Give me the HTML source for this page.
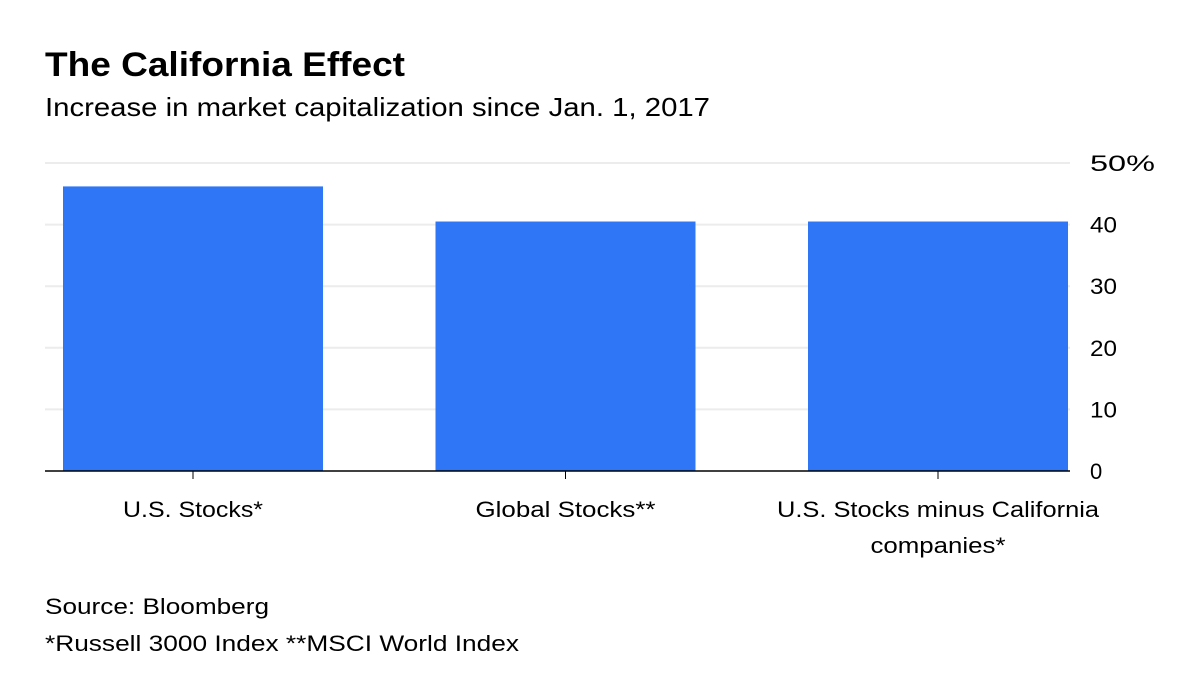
<!DOCTYPE html>
<html><head><meta charset="utf-8"><style>
body{margin:0;width:1198px;height:694px;background:#fff;font-family:"Liberation Sans",sans-serif;overflow:hidden}
</style></head><body>
<svg width="1198" height="694">
<text x="45" y="76" font-size="34" font-weight="bold" fill="#000" textLength="360" lengthAdjust="spacingAndGlyphs">The California Effect</text>
<text x="45" y="116" font-size="26" fill="#000" textLength="665" lengthAdjust="spacingAndGlyphs">Increase in market capitalization since Jan. 1, 2017</text>
<g id="grid"></g>
<g id="bars"></g>
<g id="yt"></g>
<g id="xt"></g>
<text x="45" y="614" font-size="22" fill="#000" textLength="224" lengthAdjust="spacingAndGlyphs">Source: Bloomberg</text>
<text x="45" y="651" font-size="22" fill="#000" textLength="474" lengthAdjust="spacingAndGlyphs">*Russell 3000 Index **MSCI World Index</text>
</svg>
<script>
const categories=[["U.S. Stocks*"],["Global Stocks**"],["U.S. Stocks minus California","companies*"]];
const values=[46.2,40.5,40.5];
const ticks=[0,10,20,30,40,50];
const tickLabels=["0","10","20","30","40","50%"];
const NS="http://www.w3.org/2000/svg";
const y0=471,y50=163,xL=45,xR=1070;
const y=v=>y0-(y0-y50)*v/50;
const bw=260, step=372.5, first=193;
const cx=i=>first+i*step;
const textWidths={"U.S. Stocks*":140,"Global Stocks**":180,"U.S. Stocks minus California":322,"companies*":135};
function mk(t,a,p){const e=document.createElementNS(NS,t);for(const k in a)e.setAttribute(k,a[k]);p.appendChild(e);return e;}
const g=document.getElementById('grid'),b=document.getElementById('bars'),yt=document.getElementById('yt'),xt=document.getElementById('xt');
ticks.forEach((t,i)=>{
 if(t>0){const l=mk('line',{x1:xL,x2:xR,y1:y(t),y2:y(t),stroke:'#ececec','stroke-width':2},g);
 
 }
 const tx=mk('text',{x:1090,y:y(t)+8,'font-size':22,fill:'#000'},yt);tx.textContent=tickLabels[i];
 if(tickLabels[i].length>1)tx.setAttribute('textLength',tickLabels[i].length>2?65:27);
 tx.setAttribute('lengthAdjust','spacingAndGlyphs');
 
 
});
values.forEach((v,i)=>{
 const r=mk('rect',{x:cx(i)-bw/2,y:y(v),width:bw,height:y0-y(v),fill:'#2f76f6'},b);
 
 
 const tk=mk('line',{x1:cx(i),x2:cx(i),y1:y0,y2:y0+8,stroke:'#000','stroke-width':1},xt);
 
 
 categories[i].forEach((s,j)=>{
  const t=mk('text',{x:cx(i),y:517+j*36,'font-size':22,fill:'#000','text-anchor':'middle'},xt);t.textContent=s;
  t.setAttribute('textLength',textWidths[s]||Math.round(s.length*11.6));
  t.setAttribute('lengthAdjust','spacingAndGlyphs');
  
  
 });
});
const ax=mk('line',{x1:xL,x2:xR,y1:y0,y2:y0,stroke:'#000','stroke-width':1.5},xt);


</script>
</body></html>
